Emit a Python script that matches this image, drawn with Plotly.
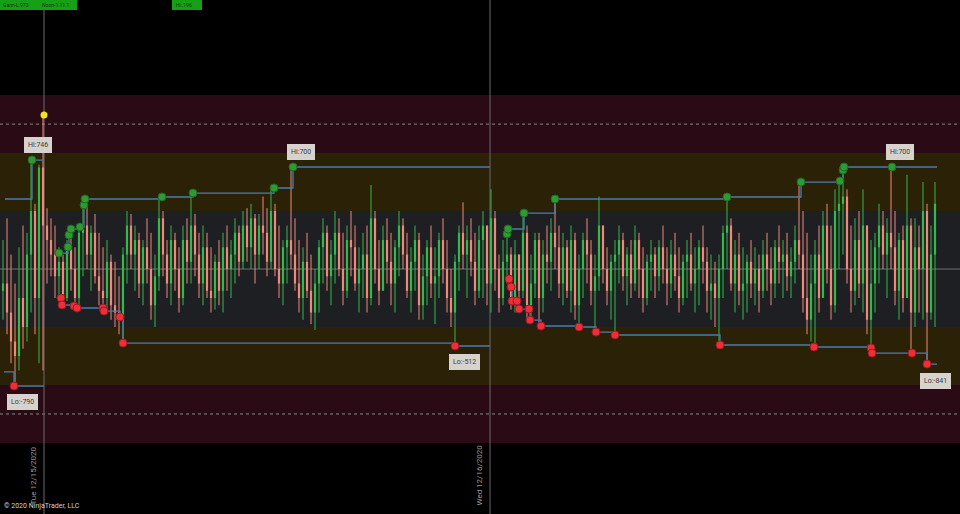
import plotly.graph_objects as go

# ---------------- data ----------------
bar_x = [3 + 4 * i for i in range(234)]
highs = [200, 350, 100, -100, 150, 300, 250, 750, 450, 720, 1060,
         420, 350, 300, 150, 100, 200, 280, 150, 300, 450,
         480, 300, 380, 250, 150, 200, 100, 50, -50, 150,
         400, 380, 300, 250, 200, 350, 250, 100, 480,
         400, 200, 300, 250, 150, 300, 350, 520, 380, 250,
         300, 250, 150, 100, 200, 250, 300, 200, 350, 300, 400, 420, 450, 380, 380, 500, 420, 560,
         450, 300, 200, 300, 700, 350, 200,
         150, 250, 100, 0, 200, 350, 300,
         200, 400, 350, 250, 300, 400, 300, 150, 250, 300, 580, 400, 200, 300, 350, 250, 200, 400,
         350, 250, 150, 300, 250, 100, 200, 300, 150, 250, 350, 200, 0, 100,
         300, 460, 300, 350, 250, 300, 400, 300, 550,
         400, 100, 200, 250, 150, 200, 100, 380, 300,
         100, 250, 250, 200, 300, 350, 480, 300, 250, 200, 300, 250, 100, 250, 350, 200, 100, 500,
         300, 150, 100, 200, 300, 250, 150, 200, 300, 250, 150, 100, 200, 150, 200, 300, 150, 200,
         250, 150, 100, 200, 250, 150, 200, 300, 150, 100, 50, 100,
         300, 500, 350, 200, 250, 150, 100, 200, 150, 100, 200, 250, 150, 200, 300, 200, 250, 150, 300, 600,
         400, 250, 100, 200, 300, 400, 450, 300, 550, 600,
         710, 550, 300, 350, 400, 550, 300, 200,
         250, 450, 400, 350, 700, 400, 250, 300, 650, 350, 350, 300, 600, 450, 300, 600]
lows = [-350, -450, -650, -800, -700, -550, -500, -300, -450, -650, -700,
        -100, -50, -200, -200, -250, -220, -150, -260, -250, -50,
        0, -150, -100, -250, -300, -280, -350, -400, -450, -510,
        -100, 0, -150, -200, -250, -100, -350, -400, -150,
        -50, -200, -250, -150, -300, -250, -100, -100, -50, -200,
        -250, -200, -300, -280, -250, -300, -150, -200, -100, -50, 0, 50, 0, -100, 0, 100, -50, 0,
        -50, -200, -250, -100, 0, -150, -300,
        -350, -200, -380, -420, -300, -100, -150,
        -250, -100, -50, -250, -200, -50, -150, -300, -200, -300, -250, -100, -250, -150, -100, -250, -300, -50,
        0, -200, -300, -150, -350, -350, -250, -200, -380, -200, -100, -300, -400, -520,
        -150, 0, -200, -50, -250, -200, -200, -250, -300,
        -150, -300, -250, -100, -280, -300, -280, -200, -350,
        -350, -200, -390, -300, -100, -150, 0, -200, -250, -200, -300, -350, -400, -200, -100, -250, -430, -150,
        -100, -250, -350, -460, -100, -150, -250, -200, -150, -200, -300, -250, -150, -200, -150, -100, -250, -200,
        -150, -300, -250, -200, -150, -300, -250, -100, -300, -350, -400, -530,
        -200, 0, -150, -300, -250, -350, -300, -200, -250, -300, -200, -150, -250, -200, -100, -200, -150, -200, -100, 0,
        -300, -450, -500, -530, -300, -200, -100, -350, -300, 0,
        100, -100, -300, -250, -200, -300, -450, -580,
        -300, -100, 0, -200, 0, -250, -350, -300, -200, -580, -400, -300, -350, -660, -350, -400]
closes = [-100, -300, -500, -600, -200, -400, 100, 400, -200, 700, 300,
          200, 100, -50, 50, -200, 150, 0, -200, 250, 300,
          100, 250, -50, -150, -200, 50, -250, -300, -350, 100,
          300, 100, 200, -100, 150, 0, -250, -50, 350,
          100, -100, 200, 0, -200, 200, 50, 300, 100, -100,
          150, -150, -200, 50, -150, 150, 0, 100, 250, 50, 300, 150, 350, 100, 300, 250, 50, 400,
          0, -100, 150, 200, 100, -100, -200,
          50, -150, -300, -100, 150, 250, -50,
          100, 250, 0, -150, 200, 150, -100, 0, 100, -200, 350, 0, -150, 200, 50, -100, 150, 300,
          100, -150, 50, 200, -250, -50, 150, -100, -50, 200, 0, -200, -300, 50,
          250, 100, 200, 50, -150, 200, 300, -100, 350,
          0, -200, 50, 100, -200, 100, -150, 250, -250,
          -100, 200, -200, 100, 50, 250, 150, -100, 150, -150, 200, -250, 0, 200, 100, -150, -50, 300,
          0, -150, 50, 100, 200, -50, 100, -100, 200, 0, -200, 50, 100, -50, 150, 0, -100, 100,
          -50, -200, 50, 100, -100, 0, 150, 50, -150, -100, -200, 0,
          250, 300, -100, 100, -150, -100, 50, -100, 0, -150, 100, 0, -100, 150, 50, 100, -50, 50, 200, 100,
          -200, -350, -100, 100, -200, 300, 0, -250, 400, 450,
          500, 0, -150, 200, -100, 300, -350, -100,
          150, 300, 100, 250, 150, -150, 200, -200, 300, -300, 150, 0, 400, -300, 100, 450]
first_open = -150
opens = [first_open] + closes[:-1]

# swing high / swing low step lines (x, value)
hi1_x = [5, 32, 44]
hi1_y = [483, 752, 752]
hi2_x = [59, 68, 69, 71, 80, 84, 85, 162, 193, 274, 293, 490]
hi2_y = [110, 152, 235, 276, 290, 442, 483, 497, 524, 559, 704, 704]
hi3_x = [507, 508, 524, 555, 727, 801, 840, 843, 844, 892, 937]
hi3_y = [242, 276, 386, 483, 497, 600, 607, 683, 704, 704, 704]
hi_dot_x = [32, 59, 68, 69, 71, 80, 84, 85, 162, 193, 274, 293,
            507, 508, 524, 555, 727, 801, 840, 843, 844, 892]
hi_dot_y = [752, 110, 152, 235, 276, 290, 442, 483, 497, 524, 559, 704,
            242, 276, 386, 483, 497, 600, 607, 683, 704, 704]

lo1_x = [4, 14, 44]
lo1_y = [-710, -807, -807]
lo2_x = [61, 62, 74, 77, 103, 104, 120, 123, 455, 490]
lo2_y = [-200, -248, -255, -269, -269, -290, -331, -511, -531, -531]
lo3_x = [509, 511, 512, 517, 519, 529, 530, 541, 579, 596, 615, 720, 814, 871, 872, 912, 927, 937]
lo3_y = [-69, -124, -221, -221, -276, -276, -352, -393, -400, -435, -455, -524, -538, -545, -580, -580, -656, -656]
lo_dot_x = [14, 61, 62, 74, 77, 103, 104, 120, 123, 455,
            509, 511, 512, 517, 519, 529, 530, 541, 579, 596, 615, 720, 814, 871, 872, 912, 927]
lo_dot_y = [-807, -200, -248, -255, -269, -269, -290, -331, -511, -531,
            -69, -124, -221, -221, -276, -276, -352, -393, -400, -435, -455, -524, -538, -545, -580, -580, -656]

spike_x = [44]
spike_y = [1063]

label_x = [38, 301, 464, 22, 900, 935]
label_y = [856, 807, -642, -918, 807, -773]
label_text = ["Hi:746", "Hi:700", "Lo:-512", "Lo:-790", "Hi:700", "Lo:-841"]

session_x = [44, 490]
session_text = ["Tue 12/15/2020", "Wed 12/16/2020"]

band_edges = [1200, 800, 400, -400, -800, -1200]
dotted_levels = [1000, -1000]

# ---------------- figure ----------------
fig = go.Figure()

shapes = []
band_colors = ["#2a0a14", "#2a2107", "#1e1f22", "#2a2107", "#2a0a14"]
for k in range(5):
    shapes.append(dict(type="rect", xref="paper", yref="y", x0=0, x1=1,
                       y0=band_edges[k + 1], y1=band_edges[k],
                       fillcolor=band_colors[k], line_width=0, layer="below"))
for lv in dotted_levels:
    shapes.append(dict(type="line", xref="paper", yref="y", x0=0, x1=1, y0=lv, y1=lv,
                       line=dict(color="#8a8a8a", width=1, dash="dot"), layer="below"))
shapes.append(dict(type="line", xref="paper", yref="y", x0=0, x1=1, y0=0, y1=0,
                   line=dict(color="#6e6e6e", width=1), layer="below"))
for sx in session_x:
    shapes.append(dict(type="line", xref="x", yref="paper", x0=sx, x1=sx, y0=0, y1=1,
                       line=dict(color="#6a6a6a", width=1), layer="below"))

# candles drawn as wick + body segments
def segs(up, lo_list, hi_list):
    xs, ys = [], []
    for x, o, c, a, b in zip(bar_x, opens, closes, lo_list, hi_list):
        if (c >= o) == up:
            xs += [x, x, None]
            ys += [a, b, None]
    return xs, ys

for up, col in [(True, "#34b84c"), (False, "#f0887a")]:
    wx, wy = segs(up, lows, highs)
    fig.add_trace(go.Scatter(x=wx, y=wy, mode="lines", line=dict(color=col, width=1),
                             showlegend=False, hoverinfo="skip"))
    body_lo = [min(o, c) for o, c in zip(opens, closes)]
    body_hi = [max(o, c) for o, c in zip(opens, closes)]
    bx, by = segs(up, body_lo, body_hi)
    fig.add_trace(go.Scatter(x=bx, y=by, mode="lines", line=dict(color=col, width=2.2),
                             showlegend=False, hoverinfo="skip"))

step_style = dict(mode="lines", line=dict(color="#4a7db0", width=1.3, shape="hv"),
                  showlegend=False, hoverinfo="skip")
for xs, ys in [(hi1_x, hi1_y), (hi2_x, hi2_y), (hi3_x, hi3_y),
               (lo1_x, lo1_y), (lo2_x, lo2_y), (lo3_x, lo3_y)]:
    fig.add_trace(go.Scatter(x=xs, y=ys, **step_style))

fig.add_trace(go.Scatter(x=hi_dot_x, y=hi_dot_y, mode="markers",
                         marker=dict(color="#2f9a35", size=8, line=dict(color="#1c6a20", width=1)),
                         showlegend=False, hoverinfo="skip"))
fig.add_trace(go.Scatter(x=lo_dot_x, y=lo_dot_y, mode="markers",
                         marker=dict(color="#ee2f3a", size=8, line=dict(color="#a01820", width=1)),
                         showlegend=False, hoverinfo="skip"))
fig.add_trace(go.Scatter(x=spike_x, y=spike_y, mode="markers",
                         marker=dict(color="#f5e020", size=7),
                         showlegend=False, hoverinfo="skip"))

annotations = []
for lx, ly, lt in zip(label_x, label_y, label_text):
    annotations.append(dict(x=lx, y=ly, xref="x", yref="y", text=lt, showarrow=False,
                            font=dict(family="Roboto, Arial", size=7, color="#3a3a3a"),
                            bgcolor="#d8d2cf", bordercolor="#d8d2cf", borderpad=3,
                            xanchor="center", yanchor="middle"))
for sx, st in zip(session_x, session_text):
    annotations.append(dict(x=sx - 10, y=-1425, xref="x", yref="y", text=st, showarrow=False,
                            textangle=-90, font=dict(family="Roboto, Arial", size=8, color="#9a9a9a"),
                            xanchor="center", yanchor="middle"))
annotations.append(dict(x=2 / 960, y=2 / 514, xref="paper", yref="paper", xanchor="left", yanchor="bottom",
                        text="© 2020 NinjaTrader, LLC", showarrow=False,
                        font=dict(family="Roboto, Arial", size=7, color="#d0d0d0")))
shapes.append(dict(type="rect", xref="paper", yref="paper", x0=0, x1=77 / 960,
                   y0=1 - 10 / 514, y1=1, fillcolor="#16a016", line_width=0))
shapes.append(dict(type="rect", xref="paper", yref="paper", x0=172 / 960, x1=202 / 960,
                   y0=1 - 10 / 514, y1=1, fillcolor="#16a016", line_width=0))
for tx, tt in [(1, "Gann-L.973"), (40, "Noon-1.11.1"), (174, "Hi:.196")]:
    annotations.append(dict(x=tx / 960, y=1, xref="paper", yref="paper", xanchor="left", yanchor="top",
                            text=tt, showarrow=False,
                            font=dict(family="Roboto, Arial", size=5, color="#0a3a0a")))

fig.update_layout(
    width=960, height=514, margin=dict(l=0, r=0, t=0, b=0),
    paper_bgcolor="#000000", plot_bgcolor="#000000",
    shapes=shapes, annotations=annotations, showlegend=False,
    xaxis=dict(range=[0, 960], showgrid=False, zeroline=False, showticklabels=False,
               fixedrange=True),
    yaxis=dict(range=[-1690, 1856], showgrid=False, zeroline=False, showticklabels=False,
               fixedrange=True),
)

fig.write_html("out.html", config={"displayModeBar": False},
               post_script="document.body.style.margin='0';document.body.style.overflow='hidden';document.body.style.background='#000';")
